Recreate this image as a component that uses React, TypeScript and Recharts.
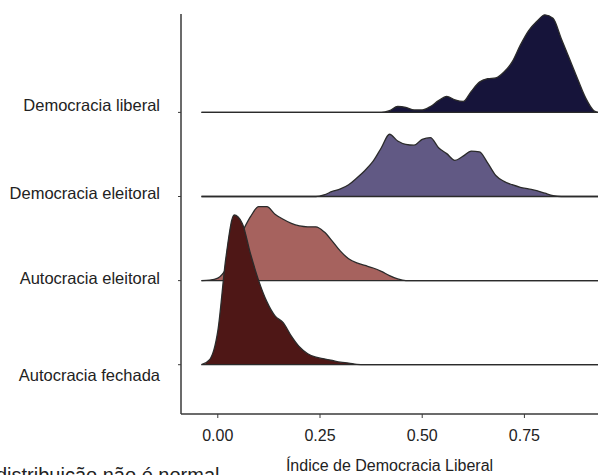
import React from "react";
import { ComposedChart, Area, XAxis, YAxis, Label } from "recharts";

// x grid for the density curves (Índice de Democracia Liberal)
const xs = [
  -0.04, -0.02, 0, 0.02, 0.04, 0.06, 0.08, 0.1, 0.12, 0.14, 0.16, 0.18, 0.2, 0.22, 0.24, 0.26, 0.28,
  0.3, 0.32, 0.34, 0.36, 0.38, 0.4, 0.42, 0.44, 0.46, 0.48, 0.5, 0.52, 0.54, 0.56, 0.58, 0.6, 0.62,
  0.64, 0.66, 0.68, 0.7, 0.72, 0.74, 0.76, 0.78, 0.8, 0.82, 0.84, 0.86, 0.88, 0.9, 0.92, 0.93,
];

// ridge heights (in row units) per regime
const liberal = [
  0, 0, 0, 0, 0, 0, 0, 0, 0, 0, 0, 0, 0, 0, 0, 0, 0, 0, 0, 0, 0, 0, 0,
  0.02, 0.07, 0.06, 0.03, 0.03, 0.07, 0.14, 0.19, 0.15, 0.13, 0.25, 0.36, 0.4, 0.41, 0.48, 0.6, 0.8,
  0.97, 1.08, 1.16, 1.12, 0.88, 0.64, 0.4, 0.17, 0.02, 0,
];
const democraciaEleitoral = [
  0, 0, 0, 0, 0, 0, 0, 0, 0, 0, 0, 0, 0, 0, 0,
  0.02, 0.06, 0.09, 0.14, 0.22, 0.31, 0.42, 0.58, 0.74, 0.66, 0.62, 0.61, 0.68, 0.7, 0.58, 0.51, 0.43,
  0.48, 0.54, 0.53, 0.4, 0.25, 0.18, 0.14, 0.11, 0.09, 0.07, 0.04, 0.01,
  0, 0, 0, 0, 0, 0,
];
const autocraciaEleitoral = [
  0, 0.005, 0.03, 0.14, 0.38, 0.58, 0.76, 0.88, 0.88, 0.79, 0.73, 0.68, 0.65, 0.64, 0.64, 0.58, 0.47,
  0.35, 0.26, 0.21, 0.18, 0.15, 0.11, 0.06, 0.02,
  0, 0, 0, 0, 0, 0, 0, 0, 0, 0, 0, 0, 0, 0, 0, 0, 0, 0, 0, 0, 0, 0, 0, 0, 0,
];
const fechada = [
  0, 0.06, 0.4, 1.28, 1.78, 1.68, 1.32, 1.0, 0.75, 0.58, 0.5, 0.34, 0.21, 0.13, 0.09, 0.07, 0.05,
  0.03, 0.02, 0.005,
  0, 0, 0, 0, 0, 0, 0, 0, 0, 0, 0, 0, 0, 0, 0, 0, 0, 0, 0, 0, 0, 0, 0, 0, 0, 0, 0, 0, 0, 0,
];

const groups = ["Autocracia fechada", "Autocracia eleitoral", "Democracia eleitoral", "Democracia liberal"];
const xTicks = [0, 0.25, 0.5, 0.75];
const labelNudge = [10.5, -2.5, -3.5, -7];

const data = xs.map((x, i) => ({
  x,
  liberal: liberal[i],
  demEl: democraciaEleitoral[i],
  autEl: autocraciaEleitoral[i],
  fechada: fechada[i],
}));

const font = "'Liberation Sans', Arial, sans-serif";
const axisColor = "#3a3a3a";

const YTick = (props: any) => {
  const { x, y, payload } = props;
  const idx = payload.value as number;
  return (
    <text x={x} y={y + labelNudge[idx]} dy="0.355em" textAnchor="end" fill="#222" fontSize={16.5} fontFamily={font}>
      {groups[idx]}
    </text>
  );
};

export default function App() {
  return (
    <div style={{ position: "fixed", left: 0, top: 0, width: 598, height: 475, overflow: "hidden", background: "#fff" }}>
      <ComposedChart width={598} height={475} data={data} margin={{ top: 14, right: 0, bottom: 0, left: 0 }}>
        <XAxis
          type="number"
          dataKey="x"
          domain={[-0.09, 0.93]}
          ticks={xTicks}
          tickFormatter={(v: number) => v.toFixed(2)}
          height={61}
          tickSize={4}
          tickMargin={12}
          axisLine={{ stroke: axisColor, strokeWidth: 1.5 }}
          tickLine={{ stroke: axisColor }}
          tick={{ fill: "#222", fontSize: 16, fontFamily: font }}
        >
          <Label
            value="Índice de Democracia Liberal"
            position="insideBottom"
            offset={4}
            style={{ fill: "#222", fontSize: 16, fontFamily: font }}
          />
        </XAxis>
        <YAxis
          type="number"
          domain={[-0.586, 4.17]}
          allowDataOverflow
          ticks={[0, 1, 2, 3]}
          width={181}
          tickSize={3}
          tickMargin={18}
          axisLine={{ stroke: axisColor, strokeWidth: 1.5 }}
          tickLine={{ stroke: axisColor }}
          tick={<YTick />}
        />
        <Area
          type="monotone"
          dataKey={(r: any) => [3, 3 + r.liberal]}
          fill="#16143a"
          fillOpacity={1}
          stroke="#2b2b2b"
          strokeWidth={1.3}
          dot={false}
          activeDot={false}
          isAnimationActive={false}
        />
        <Area
          type="monotone"
          dataKey={(r: any) => [2, 2 + r.demEl]}
          fill="#615984"
          fillOpacity={1}
          stroke="#2b2b2b"
          strokeWidth={1.3}
          dot={false}
          activeDot={false}
          isAnimationActive={false}
        />
        <Area
          type="monotone"
          dataKey={(r: any) => [1, 1 + r.autEl]}
          fill="#a6625e"
          fillOpacity={1}
          stroke="#2b2b2b"
          strokeWidth={1.3}
          dot={false}
          activeDot={false}
          isAnimationActive={false}
        />
        <Area
          type="monotone"
          dataKey={(r: any) => [0, r.fechada]}
          fill="#4e1716"
          fillOpacity={1}
          stroke="#2b2b2b"
          strokeWidth={1.3}
          dot={false}
          activeDot={false}
          isAnimationActive={false}
        />
      </ComposedChart>
      <div
        style={{
          position: "absolute",
          left: -4,
          top: 463,
          fontFamily: font,
          fontSize: 20,
          lineHeight: "24px",
          color: "#222",
          whiteSpace: "nowrap",
        }}
      >
        distribuição não é normal
      </div>
    </div>
  );
}
